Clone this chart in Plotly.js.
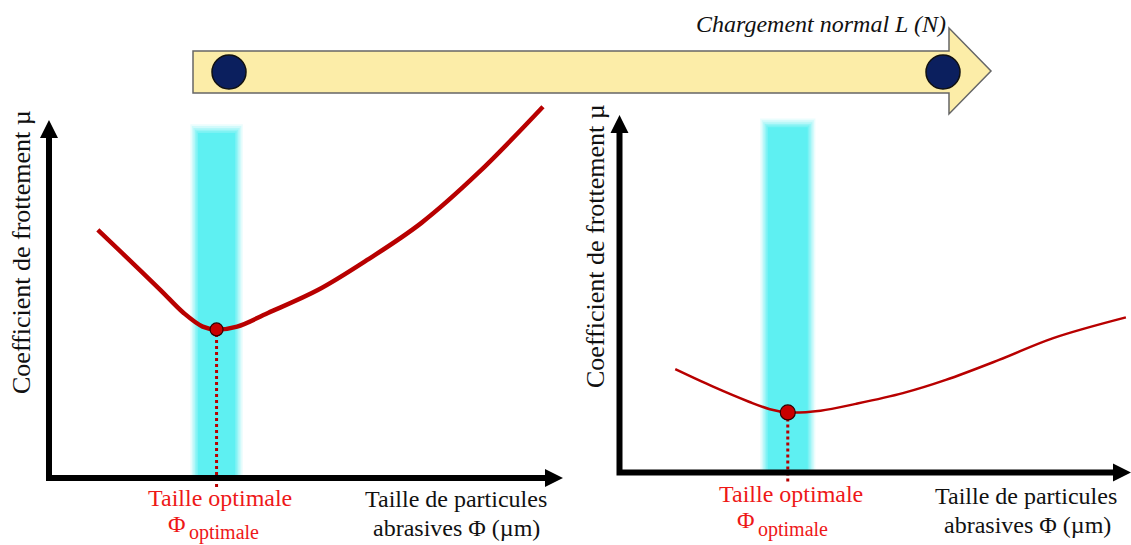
<!DOCTYPE html>
<html>
<head>
<meta charset="utf-8">
<script src="https://cdn.plot.ly/plotly-3.0.1.min.js"></script>
<style>html,body{margin:0;padding:0;background:#fff;}#chart{width:1131px;height:545px;}</style>
</head>
<body>
<div id="chart"></div>
<script>
// ---- Data (arbitrary schematic units: particle size 0-10, friction 0-10) ----
const leftSize   = [0.95, 1.50, 2.17, 2.62, 2.99, 3.26, 3.66, 4.26, 5.23, 6.19, 7.24, 8.35, 9.61];
const leftMu     = [6.93, 6.18, 5.25, 4.61, 4.23, 4.15, 4.23, 4.61, 5.25, 6.09, 7.12, 8.52, 10.37];
const rightSize  = [1.09, 1.83, 2.53, 2.94, 3.29, 3.93, 4.62, 5.54, 6.38, 7.42, 8.48, 9.90];
const rightMu    = [2.89, 2.40, 1.98, 1.77, 1.68, 1.73, 1.92, 2.22, 2.59, 3.15, 3.76, 4.34];
const optSize    = [3.26, 3.29];
const optMu      = [4.15, 1.68];
const yTitle     = "Coefficient de frottement µ";
const xTitle1    = "Taille de particules";
const xTitle2    = "abrasives Φ (µm)";
const optLabel1  = "Taille optimale";
const phiSymbol  = "Φ";
const phiSub     = "optimale";
const loadLabel  = "Chargement normal L (N)";

// ---- Layout geometry (pixels) ----
const W = 1131, H = 545;
const px = x => x / W;
const py = y => 1 - y / H;
const SERIF = '"Liberation Serif","Times New Roman",serif';
const RED = '#B80000';
const CYAN = 'rgb(94,240,242)';

const panels = [
  {ox: 49,    oy: 478,   sx: 51.4,  sy: 35.8,  xtip: 563,  ytip: 120, lw: 4.5, band: 0.36, bandTop: 9.64},
  {ox: 619.5, oy: 472.5, sx: 51.15, sy: 35.75, xtip: 1131, ytip: 115, lw: 2.5, band: 0.39, bandTop: 9.66}
];
const XR = [0, 10], YR = [-0.5, 11];

function axisDef(p) {
  return {
    x: {domain: [px(p.ox + XR[0]*p.sx), Math.min(1, px(p.ox + XR[1]*p.sx))], range: XR, visible: false, fixedrange: true},
    y: {domain: [py(p.oy - YR[0]*p.sy), py(p.oy - YR[1]*p.sy)], range: YR, visible: false, fixedrange: true}
  };
}
const a1 = axisDef(panels[0]), a2 = axisDef(panels[1]);

const traces = [];
const sets = [[leftSize, leftMu], [rightSize, rightMu]];
sets.forEach((s, i) => {
  const xa = i === 0 ? 'x' : 'x2', ya = i === 0 ? 'y' : 'y2';
  traces.push({x: [optSize[i], optSize[i]], y: [-0.25, optMu[i]], xaxis: xa, yaxis: ya, mode: 'lines',
    line: {color: RED, width: 3, dash: 'dot'}, hoverinfo: 'skip', showlegend: false});
  traces.push({x: s[0], y: s[1], xaxis: xa, yaxis: ya, mode: 'lines',
    line: {color: RED, width: panels[i].lw, shape: 'spline', smoothing: 1}, hoverinfo: 'skip', showlegend: false});
  traces.push({x: [optSize[i]], y: [optMu[i]], xaxis: xa, yaxis: ya, mode: 'markers',
    marker: {color: '#C80000', size: i === 0 ? 13 : 15, line: {color: '#300000', width: 1.2}},
    hoverinfo: 'skip', showlegend: false, cliponaxis: false});
});

const shapes = [];
panels.forEach((p, i) => {
  const xr = i === 0 ? 'x' : 'x2', yr = i === 0 ? 'y' : 'y2';
  [[0.15, 0.24, 0.12], [0.12, 0.19, 0.18], [0.09, 0.14, 0.25], [0.06, 0.09, 0.35], [0.03, 0.045, 0.5], [0, 0, 1]].forEach(([dx, dy, op]) => {
    shapes.push({type: 'rect', xref: xr, yref: yr, layer: 'below',
      x0: optSize[i] - p.band - dx, x1: optSize[i] + p.band + dx, y0: 0, y1: p.bandTop + dy,
      fillcolor: CYAN, opacity: op, line: {width: 0}});
  });
});
function P(x, y) { return px(x).toFixed(5) + ',' + py(y).toFixed(5); }
panels.forEach(p => {
  const t = 6, hl = 18, hw = 9;
  shapes.push({type: 'path', xref: 'paper', yref: 'paper', fillcolor: '#000', line: {width: 0},
    path: `M ${P(p.ox - t/2, p.oy + t/2)} L ${P(p.xtip - hl, p.oy + t/2)} L ${P(p.xtip - hl, p.oy + hw)} L ${P(p.xtip, p.oy)} L ${P(p.xtip - hl, p.oy - hw)} L ${P(p.xtip - hl, p.oy - t/2)} L ${P(p.ox + t/2, p.oy - t/2)} L ${P(p.ox + t/2, p.ytip + hl)} L ${P(p.ox + hw, p.ytip + hl)} L ${P(p.ox, p.ytip)} L ${P(p.ox - hw, p.ytip + hl)} L ${P(p.ox - t/2, p.ytip + hl)} Z`});
});
shapes.push({type: 'path', xref: 'paper', yref: 'paper', fillcolor: 'rgb(252,237,168)',
  line: {color: '#666', width: 1.5},
  path: `M ${P(193, 51)} L ${P(949, 51)} L ${P(949, 28)} L ${P(991, 71)} L ${P(949, 114)} L ${P(949, 93)} L ${P(193, 93)} Z`});
[[229, 72], [943, 72]].forEach(([cx, cy]) => {
  shapes.push({type: 'circle', xref: 'paper', yref: 'paper', fillcolor: '#0B1F5E',
    line: {color: '#111', width: 1.5},
    x0: px(cx - 17), x1: px(cx + 17), y0: py(cy + 17), y1: py(cy - 17)});
});

function ann(x, y, text, size, color, extra) {
  return Object.assign({xref: 'paper', yref: 'paper', x: px(x), y: py(y), text: text, showarrow: false,
    xanchor: 'center', yanchor: 'middle', font: {family: SERIF, size: size, color: color}}, extra || {});
}
const ORED = '#EE1818';
const annotations = [
  ann(821, 24, '<i>' + loadLabel + '</i>', 24, '#111'),
  ann(21, 252, yTitle, 26, '#111', {textangle: -90}),
  ann(595, 246, yTitle, 26, '#111', {textangle: -90}),
  ann(220, 498, optLabel1, 24, ORED),
  ann(188, 524, phiSymbol, 24, ORED, {xanchor: 'right'}),
  ann(187, 532, phiSub, 20, ORED, {xanchor: 'left'}),
  ann(791, 494, optLabel1, 24, ORED),
  ann(757, 520, phiSymbol, 24, ORED, {xanchor: 'right'}),
  ann(756, 529, phiSub, 20, ORED, {xanchor: 'left'}),
  ann(456, 499, xTitle1, 24, '#111'),
  ann(456, 528, xTitle2, 24, '#111'),
  ann(1026, 496, xTitle1, 24, '#111'),
  ann(1027, 525, xTitle2, 24, '#111')
];

const layout = {
  width: W, height: H, margin: {l: 0, r: 0, t: 0, b: 0},
  paper_bgcolor: '#fff', plot_bgcolor: 'rgba(0,0,0,0)', showlegend: false,
  xaxis: Object.assign({anchor: 'y'}, a1.x), yaxis: Object.assign({anchor: 'x'}, a1.y),
  xaxis2: Object.assign({anchor: 'y2'}, a2.x), yaxis2: Object.assign({anchor: 'x2'}, a2.y),
  shapes: shapes, annotations: annotations
};
Plotly.newPlot('chart', traces, layout, {staticPlot: true, displayModeBar: false});
</script>
</body>
</html>
